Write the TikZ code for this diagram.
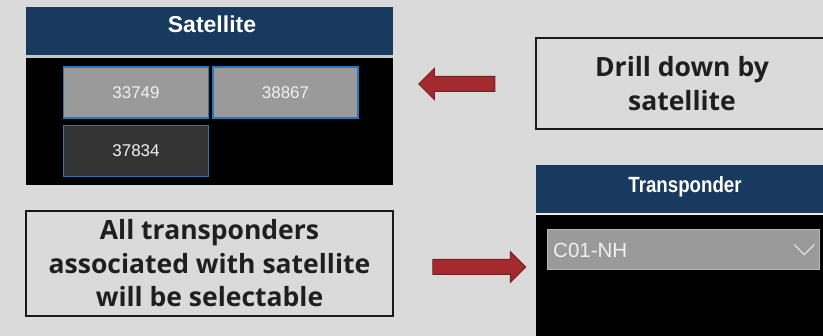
\documentclass[tikz,border=0pt]{standalone}
\usepackage{fontspec}
\setmainfont{Liberation Sans}
\newfontfamily\calloutfont{Open Sans}
\newfontfamily\narrowfont[FakeStretch=0.85]{Liberation Sans}
\usetikzlibrary{arrows.meta,positioning,calc,shapes.arrows}

\definecolor{pagebg}{HTML}{DADADA}
\definecolor{navy}{HTML}{173A5E}
\definecolor{tileblue}{HTML}{2E75B6}
\definecolor{tilegray}{HTML}{9A9A9A}
\definecolor{tiledark}{HTML}{333333}
\definecolor{arrowred}{HTML}{A32B2F}
\definecolor{arrowedge}{HTML}{7A1E22}

\begin{document}
\begin{tikzpicture}[x=1pt, y=-1pt,
  panel/.style={fill=black, inner sep=0pt, anchor=north west},
  hdr/.style={fill=navy, inner sep=0pt, anchor=north west, minimum height=48pt},
  hdrtext/.style={text=white, font=\fontsize{23}{26}\selectfont\bfseries, inner sep=0pt, text height=16.5pt, text depth=0pt},
  tile/.style={draw=tileblue, line width=1.8pt, fill=tilegray, text=white!94!black, minimum width=145pt, minimum height=51pt, inner sep=0pt, font=\fontsize{17}{20}\selectfont},
  callout/.style={draw=black!90, line width=2.2pt, align=center, inner sep=0pt, text=black!88, font=\calloutfont\bfseries\fontsize{26.5}{33.5}\selectfont},
  blockarrow/.style={single arrow, draw=arrowedge, fill=arrowred, line width=1pt, inner xsep=0pt, inner ysep=7pt, single arrow head extend=8pt, single arrow tip angle=90, minimum height=76pt}]

  \clip (0,0) rectangle (823,336);
  \fill[pagebg] (0,0) rectangle (823,336);

  % satellite slicer
  \node[panel, minimum width=367pt, minimum height=130pt] (satbody) at (26,55) {};
  \node[hdr, minimum width=367pt] (sathdr) at (26,7) {};
  \fill[black!22] (sathdr.south west) rectangle ++(367,2.5);
  \node[hdrtext] (sattitle) at (212,24) {Satellite};
  \node[tile] (s33749) at (136,92.5) {33749};
  \node[tile] (s38867) at (285.5,92.5) {38867};
  \node[tile, fill=tiledark] (s37834) at (136,151) {37834};

  % transponder dropdown
  \node[panel, minimum width=290pt, minimum height=125pt] (trbody) at (536,213) {};
  \node[hdr, minimum width=290pt] (trhdr) at (536,165) {};
  \fill[white!92!black] (trhdr.south west) rectangle ++(290,2);
  \node[hdrtext, font=\narrowfont\fontsize{22}{26}\selectfont\bfseries] (trtitle) at (685,184) {Transponder};
  \node[draw=black!28, line width=1.2pt, fill=tilegray, anchor=north west, minimum width=272pt, minimum height=40pt, inner sep=0pt] (trsel) at (547,229) {};
  \node[anchor=west, text=white!94!black, font=\fontsize{20.5}{24}\selectfont, inner sep=0pt, text height=14.8pt, text depth=0pt] (trval) at (553,250.5) {C01-NH};
  \draw[white!92!black, line width=1.1pt] ($(trsel.east)+(-26,-5)$) -- ++(10,10) -- ++(10,-10);

  % callouts
  \node[callout, minimum width=292pt, minimum height=91pt] (drill) at (682,83.5) {Drill down by\\satellite};
  \node[callout, minimum width=367pt, minimum height=105pt] (alltr) at (209.5,263.5) {All transponders\\associated with satellite\\will be selectable};

  \node[blockarrow, shape border rotate=180] (toSat) at (460.5,84) {};
  \node[blockarrow, minimum height=93pt] (toTr) at (475.5,267) {};
\end{tikzpicture}
\end{document}
